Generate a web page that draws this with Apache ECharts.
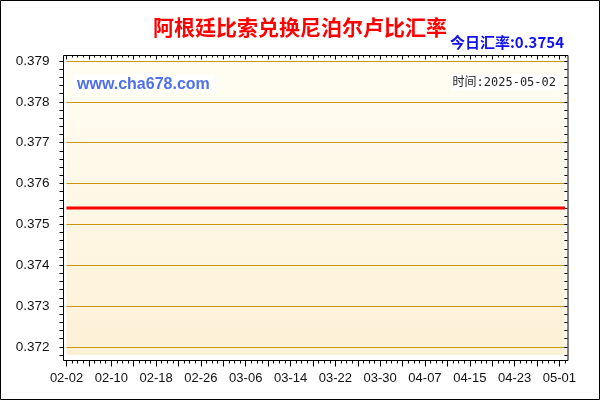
<!DOCTYPE html>
<html><head><meta charset="utf-8">
<script src="https://cdn.jsdelivr.net/npm/echarts@6/dist/echarts.min.js"></script>
<style>html,body{margin:0;padding:0;background:#fff}#c{width:600px;height:400px}</style>
</head><body><div id="c"></div>
<script>
const dates = [
 '02-02','02-03','02-04','02-05','02-06','02-07','02-08','02-09','02-10','02-11','02-12','02-13','02-14','02-15',
 '02-16','02-17','02-18','02-19','02-20','02-21','02-22','02-23','02-24','02-25','02-26','02-27','02-28',
 '03-01','03-02','03-03','03-04','03-05','03-06','03-07','03-08','03-09','03-10','03-11','03-12','03-13','03-14',
 '03-15','03-16','03-17','03-18','03-19','03-20','03-21','03-22','03-23','03-24','03-25','03-26','03-27','03-28',
 '03-29','03-30','03-31',
 '04-01','04-02','04-03','04-04','04-05','04-06','04-07','04-08','04-09','04-10','04-11','04-12','04-13','04-14',
 '04-15','04-16','04-17','04-18','04-19','04-20','04-21','04-22','04-23','04-24','04-25','04-26','04-27','04-28',
 '04-29','04-30',
 '05-01','05-02'
];
const rates = [
 0.3754,0.3754,0.3754,0.3754,0.3754,0.3754,0.3754,0.3754,0.3754,0.3754,0.3754,0.3754,0.3754,0.3754,
 0.3754,0.3754,0.3754,0.3754,0.3754,0.3754,0.3754,0.3754,0.3754,0.3754,0.3754,0.3754,0.3754,
 0.3754,0.3754,0.3754,0.3754,0.3754,0.3754,0.3754,0.3754,0.3754,0.3754,0.3754,0.3754,0.3754,0.3754,
 0.3754,0.3754,0.3754,0.3754,0.3754,0.3754,0.3754,0.3754,0.3754,0.3754,0.3754,0.3754,0.3754,0.3754,
 0.3754,0.3754,0.3754,
 0.3754,0.3754,0.3754,0.3754,0.3754,0.3754,0.3754,0.3754,0.3754,0.3754,0.3754,0.3754,0.3754,0.3754,
 0.3754,0.3754,0.3754,0.3754,0.3754,0.3754,0.3754,0.3754,0.3754,0.3754,0.3754,0.3754,0.3754,0.3754,
 0.3754,0.3754,
 0.3754,0.3754
];
const yTickLabels = ['0.372','0.373','0.374','0.375','0.376','0.377','0.378','0.379'];
const titleText = '阿根廷比索兑换尼泊尔卢比汇率';
const todayRateText = '今日汇率:0.3754';
const dateText = '时间:2025-05-02';
const siteText = 'www.cha678.com';

const chart = echarts.init(document.getElementById('c'), null, {renderer: 'canvas'});
const gold = '#c8960c';
const clear = 'rgba(0,0,0,0)';
const latin = 'Liberation Sans, Arial, sans-serif';

function catAxis(extra) {
  return Object.assign({
    type: 'category', data: dates, boundaryGap: false, gridIndex: 0,
    axisLine: {show: false}, splitLine: {show: false}, axisLabel: {show: false}
  }, extra);
}
function valAxis(extra) {
  return Object.assign({
    type: 'value', min: 0.3718, max: 0.379, interval: 0.0002, gridIndex: 0,
    axisLine: {show: false}, splitLine: {show: false}, axisLabel: {show: false}
  }, extra);
}

chart.setOption({
  animation: false,
  backgroundColor: '#ffffff',
  title: {
    text: titleText, left: 'center', top: 12,
    textStyle: {color: '#ff0000', fontSize: 21, fontWeight: 'bold', fontFamily: 'Noto Sans CJK SC, sans-serif'}
  },
  grid: {
    left: 66.5, right: 35, top: 61, bottom: 45, show: true, borderWidth: 0,
    backgroundColor: new echarts.graphic.LinearGradient(0, 0, 0, 1, [
      {offset: 0, color: '#fffdf3'}, {offset: 1, color: '#fdf1d6'}
    ])
  },
  xAxis: [
    catAxis({position: 'bottom', offset: 5.5,
      axisTick: {show: true, interval: 0, length: 3, lineStyle: {color: '#000'}},
      axisLabel: {show: true, interval: 7, margin: 11, fontSize: 13, color: '#111', fontFamily: latin}}),
    catAxis({position: 'bottom', offset: 5.5,
      axisTick: {show: true, interval: 3, length: 6, lineStyle: {color: '#000'}}}),
    catAxis({position: 'top', offset: 5.5,
      axisTick: {show: true, inside: true, interval: 0, length: 2, lineStyle: {color: '#000'}}}),
    catAxis({position: 'top', offset: 5.5,
      axisTick: {show: true, inside: true, interval: 3, length: 4, lineStyle: {color: '#000'}}})
  ],
  yAxis: [
    valAxis({position: 'left', offset: 3,
      axisTick: {show: true, length: 4, lineStyle: {color: '#000'}},
      axisLabel: {show: true, margin: 14, fontSize: 13.5, color: '#111', fontFamily: latin,
        formatter: function (v) {
          const s = v.toFixed(3);
          return (Math.abs(v - parseFloat(s)) < 1e-7 && yTickLabels.indexOf(s) >= 0) ? s : '';
        }},
      splitLine: {show: true, lineStyle: {color: [clear, gold, clear, clear, clear], width: 1}}
    }),
    valAxis({position: 'right', offset: 2.4,
      axisTick: {show: true, inside: true, length: 3, lineStyle: {color: '#000'}}})
  ],
  series: [{
    type: 'line', xAxisIndex: 0, yAxisIndex: 0, data: rates,
    symbol: 'none', silent: true,
    lineStyle: {color: '#ff0000', width: 3}
  }],
  graphic: [
    {type: 'rect', z: 100, shape: {x: 63.5, y: 55.5, width: 504.5, height: 305},
      style: {fill: 'none', stroke: '#000', lineWidth: 1}},
    {type: 'rect', z: 100, shape: {x: 0.5, y: 0.5, width: 599, height: 399},
      style: {fill: 'none', stroke: '#000', lineWidth: 1}},
    {type: 'rect', z: 90, shape: {x: 73, y: 75, width: 142, height: 18},
      style: {fill: '#ffffff'}},
    {type: 'text', z: 95, style: {x: 77, y: 84.5, text: siteText, textAlign: 'left', textVerticalAlign: 'middle',
      fill: '#4f6fec', font: 'bold 16px ' + latin}},
    {type: 'rect', z: 90, shape: {x: 451, y: 74, width: 108, height: 17},
      style: {fill: '#ffffff'}},
    {type: 'text', z: 95, style: {x: 556, y: 82.5, text: dateText, textAlign: 'right', textVerticalAlign: 'middle',
      fill: '#222', font: '12px DejaVu Sans Mono, Noto Sans CJK SC, monospace'}},
    {type: 'text', z: 95, style: {x: 564, y: 42.5, text: todayRateText, textAlign: 'right', textVerticalAlign: 'middle',
      fill: '#1010ee', font: 'bold 15px Noto Sans CJK SC, ' + latin}}
  ]
});
</script>
</body></html>
